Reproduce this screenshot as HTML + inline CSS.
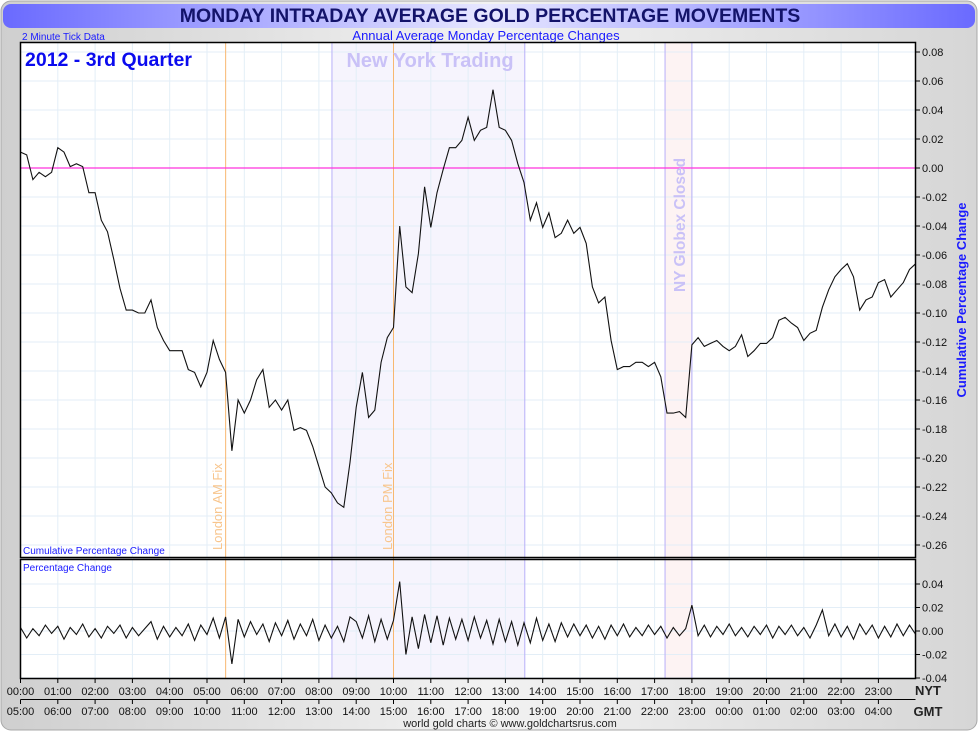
<!DOCTYPE html>
<html><head><meta charset="utf-8"><style>
html,body{margin:0;padding:0;background:#fff;}
svg{display:block;font-family:"Liberation Sans",sans-serif;}
</style></head><body>
<svg id="chart" width="980" height="733" viewBox="0 0 980 733" xmlns="http://www.w3.org/2000/svg">
<defs>
<linearGradient id="bg" x1="0" y1="0" x2="1" y2="0"><stop offset="0" stop-color="#cfcfcf"/><stop offset="0.5" stop-color="#f2f2f2"/><stop offset="1" stop-color="#d6d6d6"/></linearGradient>
<linearGradient id="tb" x1="0" y1="0" x2="1" y2="0"><stop offset="0" stop-color="#6a6aff"/><stop offset="0.5" stop-color="#e8e8ff"/><stop offset="1" stop-color="#6a6aff"/></linearGradient>
</defs>
<rect x="1" y="1" width="976" height="729" rx="10" fill="url(#bg)" stroke="#a8a8a8"/>
<rect x="3" y="4" width="972" height="24" rx="8" fill="url(#tb)"/>
<text x="490" y="22" text-anchor="middle" font-size="19.5" font-weight="bold" fill="#13136a">MONDAY INTRADAY AVERAGE GOLD PERCENTAGE MOVEMENTS</text>
<text x="22" y="40" font-size="10" fill="#1a1aff">2 Minute Tick Data</text>
<text x="486" y="40" text-anchor="middle" font-size="13" fill="#1a1aff">Annual Average Monday Percentage Changes</text>
<rect x="20.5" y="42.5" width="895" height="515" fill="#fff"/>
<rect x="20.5" y="559.5" width="895" height="119" fill="#fff"/>
<g id="shade"></g>
<g id="grid"></g>
<g id="marks"></g>
<g id="axes"></g>
<rect x="20.5" y="42.5" width="895" height="515" fill="none" stroke="#000" stroke-width="1.5"/>
<rect x="20.5" y="559.5" width="895" height="119" fill="none" stroke="#000" stroke-width="1.5"/>
<text x="25" y="66" font-size="19.5" font-weight="bold" fill="#0a0aee">2012 - 3rd Quarter</text>
<text x="430" y="67" text-anchor="middle" font-size="20" font-weight="bold" fill="#c9c1f7">New York Trading</text>
<text transform="translate(222,550) rotate(-90)" font-size="13" fill="#f8c58c">London AM Fix</text>
<text transform="translate(392,550) rotate(-90)" font-size="13" fill="#f8c58c">London PM Fix</text>
<text transform="translate(685,292) rotate(-90)" font-size="15.5" font-weight="bold" fill="#c9c1f7">NY Globex Closed</text>
<text x="23" y="554" font-size="10" fill="#1a1aff">Cumulative Percentage Change</text>
<text x="23" y="571" font-size="10" fill="#1a1aff">Percentage Change</text>
<text transform="translate(966,300) rotate(-90)" text-anchor="middle" font-size="13" font-weight="bold" fill="#1a1aff">Cumulative Percentage Change</text>
<text x="928" y="695" text-anchor="middle" font-size="13" font-weight="bold" fill="#222">NYT</text>
<text x="928" y="716" text-anchor="middle" font-size="13" font-weight="bold" fill="#222">GMT</text>
<text x="510" y="727" text-anchor="middle" font-size="11" fill="#222">world gold charts © www.goldchartsrus.com</text>
</svg>
<script>
const cumulative = [0.011,0.009,-0.008,-0.003,-0.006,-0.003,0.014,0.011,0.001,0.003,0.001,-0.017,-0.017,-0.036,-0.044,-0.063,-0.083,-0.098,-0.098,-0.100,-0.100,-0.091,-0.110,-0.119,-0.126,-0.126,-0.126,-0.139,-0.141,-0.151,-0.141,-0.119,-0.132,-0.141,-0.195,-0.160,-0.169,-0.160,-0.146,-0.139,-0.165,-0.160,-0.167,-0.160,-0.181,-0.179,-0.181,-0.192,-0.206,-0.220,-0.224,-0.231,-0.234,-0.203,-0.165,-0.141,-0.172,-0.167,-0.134,-0.117,-0.110,-0.040,-0.082,-0.086,-0.059,-0.013,-0.041,-0.017,-0.001,0.014,0.014,0.019,0.035,0.019,0.026,0.028,0.054,0.028,0.026,0.019,0.003,-0.010,-0.036,-0.024,-0.041,-0.031,-0.048,-0.045,-0.036,-0.045,-0.041,-0.052,-0.082,-0.093,-0.089,-0.119,-0.139,-0.137,-0.137,-0.134,-0.134,-0.137,-0.134,-0.144,-0.169,-0.169,-0.168,-0.172,-0.122,-0.117,-0.123,-0.121,-0.119,-0.123,-0.126,-0.123,-0.115,-0.130,-0.126,-0.121,-0.121,-0.117,-0.105,-0.103,-0.107,-0.110,-0.119,-0.114,-0.112,-0.096,-0.084,-0.075,-0.070,-0.066,-0.075,-0.098,-0.091,-0.089,-0.079,-0.077,-0.089,-0.084,-0.079,-0.070,-0.066];
const pctChange = [0.003,-0.006,0.002,-0.004,0.005,-0.002,0.004,-0.007,0.003,-0.003,0.006,-0.005,0.002,-0.006,0.004,-0.002,0.005,-0.006,0.003,-0.004,0.002,0.008,-0.007,0.004,-0.005,0.003,-0.004,0.006,-0.008,0.005,-0.003,0.011,-0.006,0.012,-0.028,0.010,-0.005,0.008,-0.003,0.006,-0.009,0.007,-0.004,0.009,-0.007,0.006,-0.004,0.010,-0.008,0.005,-0.006,0.004,-0.009,0.012,0.008,-0.006,0.013,-0.009,0.010,-0.007,0.009,0.042,-0.020,0.012,-0.015,0.014,-0.010,0.013,-0.012,0.011,-0.007,0.010,-0.008,0.012,-0.006,0.009,-0.011,0.010,-0.009,0.008,-0.012,0.007,-0.010,0.011,-0.008,0.006,-0.009,0.007,-0.005,0.006,-0.004,0.005,-0.006,0.004,-0.007,0.005,-0.004,0.006,-0.005,0.003,-0.004,0.005,-0.003,0.004,-0.006,0.003,-0.004,0.002,0.022,-0.004,0.005,-0.005,0.004,-0.003,0.006,-0.004,0.003,-0.005,0.004,-0.003,0.005,-0.006,0.004,-0.003,0.005,-0.004,0.003,-0.006,0.005,0.018,-0.004,0.006,-0.005,0.004,-0.007,0.006,-0.003,0.005,-0.006,0.004,-0.005,0.006,-0.004,0.005,-0.003];
const nytLabels = ["00:00","01:00","02:00","03:00","04:00","05:00","06:00","07:00","08:00","09:00","10:00","11:00","12:00","13:00","14:00","15:00","16:00","17:00","18:00","19:00","20:00","21:00","22:00","23:00"];
const gmtLabels = ["05:00","06:00","07:00","08:00","09:00","10:00","11:00","12:00","13:00","14:00","15:00","16:00","17:00","18:00","19:00","20:00","21:00","22:00","23:00","00:00","01:00","02:00","03:00","04:00"];
const mainTicks = [0.08,0.06,0.04,0.02,0.00,-0.02,-0.04,-0.06,-0.08,-0.10,-0.12,-0.14,-0.16,-0.18,-0.20,-0.22,-0.24,-0.26];
const lowerTicks = [0.04,0.02,0.00,-0.02,-0.04];
const minutesPerPoint = 10;
const amFix = 5.5, pmFix = 10, nyStart = 8.35, nyEnd = 13.52, globexStart = 17.28, globexEnd = 18.0;

const NS = "http://www.w3.org/2000/svg";
const xH = h => 20.5 + h * 37.3;
const yMain = v => 168 - v * 1450;
const yLow = v => 631 - v * 1175;
function mk(tag, attrs, parent) {
  const el = document.createElementNS(NS, tag);
  for (const k in attrs) el.setAttribute(k, attrs[k]);
  document.getElementById(parent).appendChild(el);
  return el;
}
let s;
s = mk('rect', {x: xH(nyStart), y: 42.5, width: xH(nyEnd) - xH(nyStart), height: 636, fill: '#f6f4fd'}, 'shade');


s = mk('rect', {x: xH(globexStart), y: 42.5, width: xH(globexEnd) - xH(globexStart), height: 636, fill: '#fdf3f3'}, 'shade');


for (let h = 1; h < 24; h++) {
  const g = mk('line', {x1: xH(h), x2: xH(h), y1: 42.5, y2: 678.5, stroke: '#e3eef7', 'stroke-width': 1}, 'grid');
  
  
}
mainTicks.forEach(v => {
  const g = mk('line', {x1: 20.5, x2: 915.5, y1: yMain(v), y2: yMain(v), stroke: '#e3eef7'}, 'grid');
  
  
});
lowerTicks.forEach(v => {
  const g = mk('line', {x1: 20.5, x2: 915.5, y1: yLow(v), y2: yLow(v), stroke: '#e3eef7'}, 'grid');
  
  
});
[[nyStart,'#b8b0f8','ny-open-line'],[nyEnd,'#b8b0f8','ny-close-line'],[globexStart,'#b8b0f8','globex-close-line'],[globexEnd,'#b8b0f8','globex-open-line'],[amFix,'#f8b870','am-fix-line'],[pmFix,'#f8b870','pm-fix-line']].forEach(m => {
  const l = mk('line', {x1: xH(m[0]), x2: xH(m[0]), y1: 42.5, y2: 678.5, stroke: m[1]}, 'grid');
  
  
});
const z = mk('line', {x1: 20.5, x2: 915.5, y1: yMain(0), y2: yMain(0), stroke: '#ff33dd', 'stroke-width': 1.2}, 'grid');


const hOf = i => i * minutesPerPoint / 60;
const p1 = cumulative.map((v, i) => xH(hOf(i)).toFixed(1) + ',' + yMain(v).toFixed(1)).join(' ');
const c = mk('polyline', {points: p1, fill: 'none', stroke: '#111', 'stroke-width': 1.1}, 'marks');


const p2 = pctChange.map((v, i) => xH(hOf(i)).toFixed(1) + ',' + yLow(v).toFixed(1)).join(' ');
const p = mk('polyline', {points: p2, fill: 'none', stroke: '#111', 'stroke-width': 1.1}, 'marks');


mainTicks.forEach(v => {
  const t = mk('line', {x1: 915.5, x2: 920, y1: yMain(v), y2: yMain(v), stroke: '#000'}, 'axes');
  
  
  const tx = mk('text', {x: 922, y: yMain(v) + 4, 'font-size': 11, fill: '#111'}, 'axes');
  tx.textContent = v.toFixed(2);
  
  
});
lowerTicks.forEach(v => {
  const t = mk('line', {x1: 915.5, x2: 920, y1: yLow(v), y2: yLow(v), stroke: '#000'}, 'axes');
  
  
  const tx = mk('text', {x: 922, y: yLow(v) + 4, 'font-size': 11, fill: '#111'}, 'axes');
  tx.textContent = v.toFixed(2);
  
  
});
const ax = mk('line', {x1: 20.5, x2: 915.5, y1: 699.5, y2: 699.5, stroke: '#000'}, 'axes');


nytLabels.forEach((lab, h) => {
  const t = mk('line', {x1: xH(h), x2: xH(h), y1: 678.5, y2: 683, stroke: '#000'}, 'axes');
  
  
  const t2 = mk('line', {x1: xH(h), x2: xH(h), y1: 699.5, y2: 704, stroke: '#000'}, 'axes');
  
  
  const tx = mk('text', {x: xH(h), y: 695, 'font-size': 11, 'text-anchor': 'middle', fill: '#111'}, 'axes');
  tx.textContent = lab;
  
  
  const gx = mk('text', {x: xH(h), y: 715, 'font-size': 11, 'text-anchor': 'middle', fill: '#111'}, 'axes');
  gx.textContent = gmtLabels[h];
  
  
});
</script>
</body></html>
